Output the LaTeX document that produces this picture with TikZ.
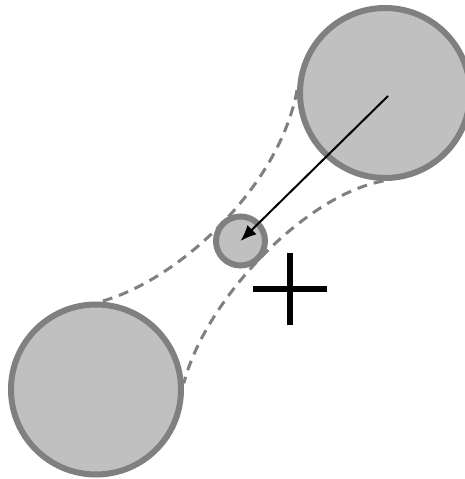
\documentclass[tikz,border=0pt]{standalone}
\usepackage{xcolor}
\usepackage{tikz}
\usetikzlibrary{arrows.meta, positioning, backgrounds}

\definecolor{ballfill}{gray}{0.753}
\definecolor{ballline}{gray}{0.502}

\tikzset{
    ball/.style={circle, draw=ballline, fill=ballfill, line width=0.06cm, inner sep=0pt},
    neck/.style={draw=ballline, line width=0.03cm, dash pattern=on 0.10cm off 0.07cm},
}

\begin{document}
\begin{tikzpicture}[node distance=2cm, on grid, >={Latex[length=0.16cm, width=0.13cm]}]
        \useasboundingbox (0,0) rectangle (4.65,4.79);

        \node[ball, minimum size=1.70cm] (bot) at (0.96,0.895) {};
        \node[ball, minimum size=0.49cm] (mid) [above right=1.485 and 1.445 of bot] {};
        \node[ball, minimum size=1.70cm] (top) [above right=1.48 and 1.445 of mid] {};
        \coordinate[below right=0.485 and 0.495 of mid] (cross);

        % dashed outline between the balls
        \begin{scope}[on background layer]
        \path[neck]
        (top.178) .. controls (2.80,2.94) and (1.80,1.99) .. (bot.87)
        (top.269) .. controls (3.05,2.84) and (2.05,1.79) .. (bot.4);
        \end{scope}

        \draw[->, line width=0.02cm] ([xshift=0.03cm, yshift=-0.03cm]top.center) -- (mid.center);

        \draw[line width=0.06cm]
        ([xshift=-0.37cm]cross) -- ([xshift=0.37cm]cross)
        ([yshift=-0.36cm]cross) -- ([yshift=0.36cm]cross);

    \end{tikzpicture}
\end{document}
